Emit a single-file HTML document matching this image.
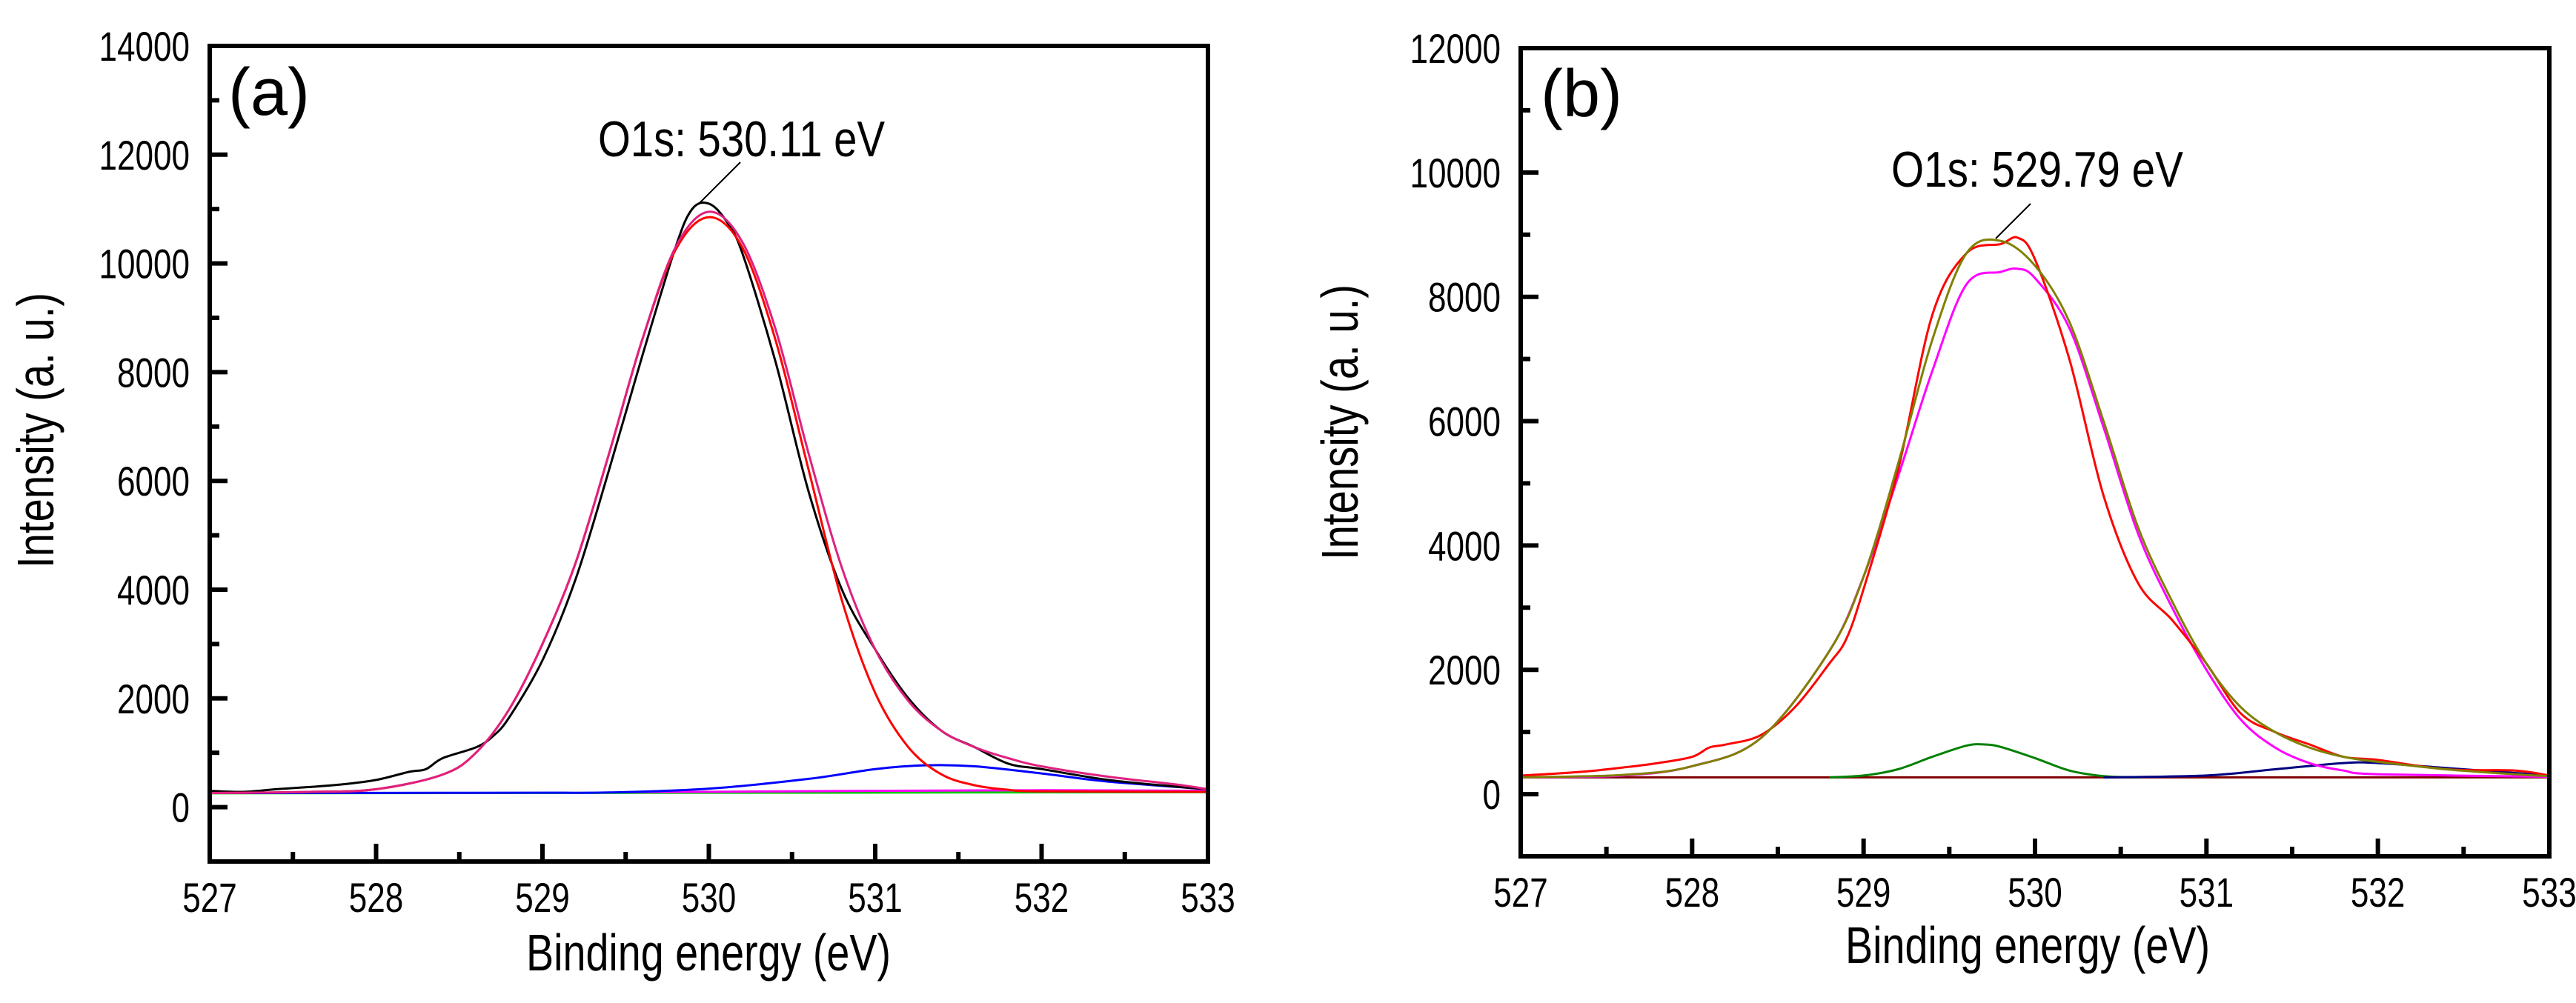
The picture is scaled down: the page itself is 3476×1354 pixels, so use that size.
<!DOCTYPE html>
<html><head><meta charset="utf-8"><style>
html,body{margin:0;padding:0;background:#fff;}
svg{display:block;}
text{font-family:"Liberation Sans",Arial,sans-serif;fill:#000;}
</style></head>
<body>
<svg id="fig" width="3476" height="1354" viewBox="0 0 3476 1354" xmlns="http://www.w3.org/2000/svg"></svg>
<script>
// ---------- Panel (a) data ----------
const aRawX = [527,527.2,527.4,527.6,527.8,528,528.2,528.3,528.4,528.6,528.7,528.8,529,529.2,529.4,529.6,529.8,529.9,530,530.1,530.2,530.4,530.6,530.8,531,531.2,531.4,531.6,531.8,532,532.4,532.8,533];
const aRawY = [300,280,330,370,420,500,650,700,900,1100,1300,1650,2700,4200,6200,8300,10300,11000,11100,10800,10200,8200,5800,4000,2900,2000,1400,1100,800,700,500,380,330];
const aEnvX = [527,527.6,528,528.4,528.6,528.8,529,529.2,529.4,529.6,529.8,530,530.2,530.4,530.6,530.8,531,531.2,531.4,531.6,531.8,532,532.4,532.8,533];
const aEnvY = [260,280,330,600,1000,1800,3000,4500,6500,8600,10300,10950,10400,8800,6500,4400,2900,1950,1400,1100,900,750,560,420,330];
const aMainX = [527,527.6,528,528.4,528.6,528.8,529,529.2,529.4,529.6,529.8,530,530.2,530.4,530.6,530.8,531,531.2,531.4,531.6,531.8,532,533];
const aMainY = [260,280,330,600,1000,1800,3000,4500,6500,8600,10250,10850,10300,8600,6200,3800,2100,1100,600,400,320,290,280];
const aCompX = [527,528,529,529.4,530,530.6,531,531.3,531.6,532,532.4,533];
const aCompY = [260,262,265,270,340,520,700,770,750,620,470,330];
const aBaseX = [527,533];
const aBaseY = [255,275];
const aLowX = [529.5,530.5,531,532,533];
const aLowY = [275,290,300,310,300];
const aYTicks = [0,2000,4000,6000,8000,10000,12000,14000];
// ---------- Panel (b) data ----------
const bRawX = [527,527.2,527.4,527.6,527.8,528,528.1,528.2,528.4,528.6,528.8,528.9,529,529.2,529.4,529.6,529.8,529.9,530,530.2,530.4,530.6,530.8,531,531.2,531.4,531.6,531.8,532,532.4,532.8,533];
const bRawY = [300,330,370,430,500,600,750,800,950,1400,2100,2500,3300,5200,7700,8700,8850,8950,8600,7000,4800,3400,2800,2100,1300,1000,800,600,550,400,380,300];
const bEnvX = [527,527.6,528,528.4,528.8,529,529.2,529.4,529.6,529.8,530,530.2,530.4,530.6,530.8,531,531.2,531.4,531.6,531.8,532,532.4,532.8,533];
const bEnvY = [270,310,450,900,2300,3500,5300,7300,8700,8900,8500,7600,6000,4300,3100,2100,1400,1000,750,600,520,400,320,290];
const bMainX = [527,527.6,528,528.4,528.8,529,529.2,529.4,529.6,529.8,529.9,530,530.2,530.4,530.6,530.8,531,531.2,531.4,531.6,531.8,532,533];
const bMainY = [270,300,450,900,2300,3500,5100,6800,8200,8400,8450,8300,7500,5900,4200,3000,2000,1200,750,500,380,320,280];
const bG1X = [528.8,529,529.2,529.4,529.6,529.7,529.8,530,530.2,530.4,530.6];
const bG1Y = [270,300,400,600,780,800,760,580,380,290,270];
const bG2X = [530.4,531,531.4,531.8,532,532.4,533];
const bG2Y = [270,300,400,500,500,420,300];
const bBaseX = [527,533];
const bBaseY = [270,270];
const bYTicks = [0,2000,4000,6000,8000,10000,12000];
const xTicks = [527,528,529,530,531,532,533];

const NS = "http://www.w3.org/2000/svg";
const svg = document.getElementById("fig");
function mk(tag, attrs, parent){
  const e = document.createElementNS(NS, tag);
  for (const k in attrs) e.setAttribute(k, attrs[k]);
  (parent||svg).appendChild(e);
  return e;
}
function smoothPath(pts){
  if (pts.length < 3) return pts.map((p,i)=>(i?"L":"M")+p[0].toFixed(1)+","+p[1].toFixed(1)).join("");
  let d = "M"+pts[0][0].toFixed(1)+","+pts[0][1].toFixed(1);
  for (let i=0;i<pts.length-1;i++){
    const p0 = pts[Math.max(0,i-1)], p1 = pts[i], p2 = pts[i+1], p3 = pts[Math.min(pts.length-1,i+2)];
    const c1x = p1[0]+(p2[0]-p0[0])/6, c1y = p1[1]+(p2[1]-p0[1])/6;
    const c2x = p2[0]-(p3[0]-p1[0])/6, c2y = p2[1]-(p3[1]-p1[1])/6;
    d += "C"+c1x.toFixed(1)+","+c1y.toFixed(1)+" "+c2x.toFixed(1)+","+c2y.toFixed(1)+" "+p2[0].toFixed(1)+","+p2[1].toFixed(1);
  }
  return d;
}
function panel(p){
  const g = mk("g", {});
  
  
  const sx = v => p.L + (v - 527) / 6 * (p.R - p.L);
  const sy = v => p.B - (v - p.ymin) / (p.ymax - p.ymin) * (p.B - p.T);
  p.series.forEach(s => {
    const pts = s.x.map((xv,i)=>[sx(xv), sy(s.y[i])]);
    const path = mk("path", {d:smoothPath(pts), fill:"none", stroke:s.c, "stroke-width":3, "stroke-linejoin":"round"}, g);
    
    
  });
  const fr = mk("rect", {x:p.L, y:p.T, width:p.R-p.L, height:p.B-p.T, fill:"none", stroke:"#000", "stroke-width":6}, g);
  
  
  for (let v = 527; v <= 533.001; v += 0.5) {
    const maj = Math.abs(v - Math.round(v)) < 1e-6;
    const X = sx(v);
    const t = mk("line", {x1:X, x2:X, y1:p.B, y2:p.B-(maj?24:13), stroke:"#000", "stroke-width":6}, g);
    
    
  }
  xTicks.forEach(v => {
    const s = String(v);
    const t = mk("text", {x:sx(v), y:p.B+68, "font-size":56, "text-anchor":"middle", textLength:s.length*24.5, lengthAdjust:"spacingAndGlyphs"}, g);
    t.textContent = s;
    
    
  });
  for (let v = -1000; v <= p.ymax; v += 1000) {
    const maj = v % 2000 === 0;
    if (v === -1000) continue;
    const Y = sy(v);
    const t = mk("line", {x1:p.L, x2:p.L+(maj?24:13), y1:Y, y2:Y, stroke:"#000", "stroke-width":6}, g);
    
    
  }
  p.yTicks.forEach(v => {
    const s = String(v);
    const t = mk("text", {x:p.L-27, y:sy(v)+20, "font-size":56, "text-anchor":"end", textLength:s.length*24.5, lengthAdjust:"spacingAndGlyphs"}, g);
    t.textContent = s;
    
    
  });
  const xt = mk("text", {x:p.xtx, y:p.xty, "font-size":70, "text-anchor":"middle", textLength:492, lengthAdjust:"spacingAndGlyphs"}, g);
  xt.textContent = "Binding energy (eV)";
  
  
  const yt = mk("text", {x:0, y:0, "font-size":70, "text-anchor":"middle", textLength:372, lengthAdjust:"spacingAndGlyphs", transform:`translate(${p.ytx},${p.yty}) rotate(-90)`}, g);
  yt.textContent = "Intensity (a. u.)";
  
  
  const pl = mk("text", {x:p.lx, y:p.ly, "font-size":90}, g);
  pl.textContent = p.label;
  
  
  const an = mk("text", {x:p.ax, y:p.ay, "font-size":68, textLength:p.aw, lengthAdjust:"spacingAndGlyphs"}, g);
  an.textContent = p.atext;
  
  
  const ll = mk("line", {x1:p.l1[0], y1:p.l1[1], x2:p.l1[2], y2:p.l1[3], stroke:"#000", "stroke-width":2}, g);
  
  
}
panel({name:"panel-a", L:283, R:1630, T:62, B:1163, ymin:-1000, ymax:14000, yTicks:aYTicks,
  xtx:956, xty:1310, ytx:72, yty:581, label:"(a)", lx:308, ly:155,
  atext:"O1s: 530.11 eV", ax:807, ay:211, aw:387, l1:[942,276,999,219],
  series:[
    {n:"baseline-green", x:aBaseX, y:aBaseY, c:"#00c800"},
    {n:"component-magenta-low", x:aLowX, y:aLowY, c:"#ff00ff"},
    {n:"component-blue", x:aCompX, y:aCompY, c:"#0000ff"},
    {n:"raw-spectrum", x:aRawX, y:aRawY, c:"#000000"},
    {n:"main-component", x:aMainX, y:aMainY, c:"#ff0000"},
    {n:"fit-envelope", x:aEnvX, y:aEnvY, c:"#e0207f"}
  ]});
panel({name:"panel-b", L:2052, R:3440, T:65, B:1156, ymin:-1000, ymax:12000, yTicks:bYTicks,
  xtx:2736, xty:1300, ytx:1832, yty:570, label:"(b)", lx:2079, ly:157,
  atext:"O1s: 529.79 eV", ax:2552, ay:252, aw:394, l1:[2693,322,2740,275],
  series:[
    {n:"baseline-darkred", x:bBaseX, y:bBaseY, c:"#800000"},
    {n:"component-green", x:bG1X, y:bG1Y, c:"#008000"},
    {n:"component-navy", x:bG2X, y:bG2Y, c:"#000080"},
    {n:"main-component", x:bMainX, y:bMainY, c:"#ff00ff"},
    {n:"raw-spectrum", x:bRawX, y:bRawY, c:"#ff0000"},
    {n:"fit-envelope", x:bEnvX, y:bEnvY, c:"#808000"}
  ]});
</script>
</body></html>
